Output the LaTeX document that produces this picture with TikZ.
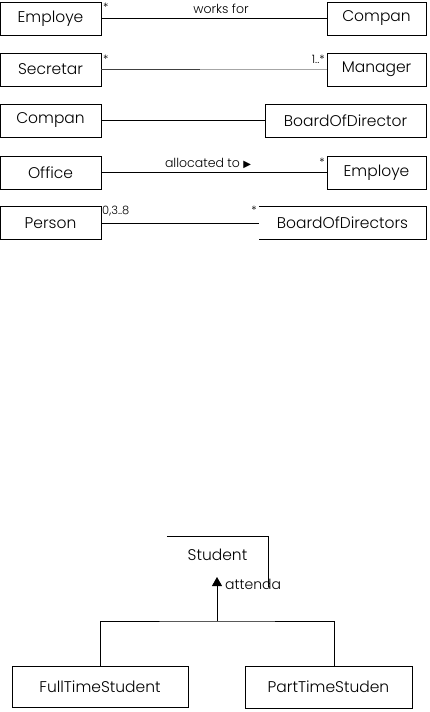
\documentclass[tikz,border=0pt]{standalone}
\usepackage{fontspec}
\setmainfont{Poppins}[UprightFont={* Light}]
\newfontfamily\symfont{DejaVu Sans}
\usepackage{tikz}
\usetikzlibrary{arrows.meta,calc}

\begin{document}
\begin{tikzpicture}[
  x=1pt, y=-1pt,
  cls/.style={draw, rectangle, inner sep=0pt, minimum height=33pt,
              font=\fontsize{15.5}{15.5}\selectfont},
  open/.style={rectangle, inner sep=0pt, minimum height=33pt,
              font=\fontsize{15.5}{15.5}\selectfont},
  lbl/.style={font=\fontsize{12.5}{12.5}\selectfont, inner sep=0pt},
  mult/.style={font=\fontsize{11.5}{11.5}\selectfont, inner sep=0pt},
  assoc/.style={line width=0.8pt}
]
\useasboundingbox (0,0) rectangle (429,712);

% ─── Row 1: works for ───
\node[cls, minimum width=101pt] (emp1) at (50.5, 18.5) {Employe};
\node[cls, minimum width=99pt]  (com1) at (376.5, 18.5) {Compan};
\draw[assoc] (emp1.east) -- (com1.west);
\node[mult, anchor=north west] at (103, 3) {*};
\node[lbl] at (221, 9) {works for};

% ─── Row 2: Secretar / Manager ───
\node[cls, minimum width=101pt] (sec) at (50.5, 69.5) {Secretar};
\node[cls, minimum width=99pt]  (mgr) at (376.5, 69.5) {Manager};
\draw[assoc, black!75] (sec.east) -- ($(sec.east)!0.44!(mgr.west)$);
\draw[assoc, gray!70] ($(sec.east)!0.44!(mgr.west)$) -- (mgr.west);
\node[mult, anchor=north west] at (103, 55) {*};
\node[mult, anchor=north east] at (325, 55) {1..*};

% ─── Row 3: Compan / BoardOfDirector ───
\node[cls, minimum width=101pt] (com2) at (50.5, 120.5) {Compan};
\node[cls, minimum width=161pt] (bod1) at (345.5, 120.5) {BoardOfDirector};
\draw[assoc] (com2.east) -- (bod1.west);

% ─── Row 4: allocated to ───
\node[cls, minimum width=101pt] (off) at (50.5, 172.5) {Office};
\node[cls, minimum width=99pt]  (emp2) at (376.5, 172.5) {Employe};
\draw[assoc] (off.east) -- (emp2.west);
\node[lbl] at (208, 163) {allocated to {\symfont\fontsize{10}{10}\selectfont ▶}};
\node[mult, anchor=north east] at (325, 158) {*};

% ─── Row 5: Person / BoardOfDirectors (left side open) ───
\node[cls, minimum width=101pt] (per) at (50.5, 223) {Person};
\node[open, minimum width=167pt, minimum height=32pt] (bod2) at (342.5, 223) {BoardOfDirectors};
\draw[assoc] (bod2.north west) -| (bod2.south east) -- (bod2.south west);
\draw[assoc] (per.east) -- (bod2.west);
\node[mult, anchor=north west] at (102, 206) {0,3..8};
\node[mult, anchor=north east] at (257, 206) {*};

% ─── Student hierarchy ───
\node[open, minimum width=101pt, minimum height=36pt] (stu) at (217.5, 555) {Student};
\draw[assoc] (stu.north west) -- (stu.north east) -- ++(0,50);
\node[cls, minimum width=176pt, minimum height=41pt] (fts) at (100, 686.5) {FullTimeStudent};
\node[cls, minimum width=167pt, minimum height=42pt] (pts) at (328.5, 687) {PartTimeStuden};
\coordinate (join) at (217, 621);
\coordinate (tip) at (217, 577);
\draw[assoc] (fts.north) |- (join) -| ([xshift=5.5pt]pts.north);
\draw[assoc, -{Triangle[length=9pt, width=10pt]}] (join) -- (tip);
\node[lbl, font=\fontsize{14}{14}\selectfont, anchor=west] at (225, 584) {attenda};

\end{tikzpicture}
\end{document}
